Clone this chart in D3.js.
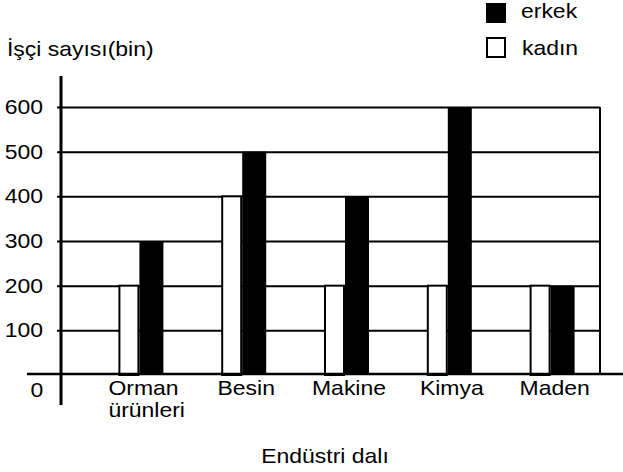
<!DOCTYPE html>
<html>
<head>
<meta charset="utf-8">
<script src="https://cdn.jsdelivr.net/npm/d3@7"></script>
<style>
  body { margin: 0; background: #fff; }
  svg text { font-family: "Liberation Sans", Arial, sans-serif; font-size: 20.5px; fill: #000; }
</style>
</head>
<body>
<svg id="chart" width="623" height="472"></svg>
<script>
// chart data
var categories = ["Orman\nürünleri", "Besin", "Makine", "Kimya", "Maden"];
var series = ["kadın", "erkek"];
var kadin = [200, 400, 200, 200, 200];
var erkek = [300, 500, 400, 600, 200];
var yTicks = [100, 200, 300, 400, 500, 600];

var svg = d3.select("#chart");
var stretch = 1.12;  // text in the picture is a bit wider than Arial

// put a text at (x,y) and widen it around its anchor
function addText(x, y, str, anchor) {
    return svg.append("text")
        .attr("transform", "translate(" + x + "," + y + ") scale(" + stretch + ",1)")
        .attr("text-anchor", anchor || "start")
        .text(str);
}

var axisX = 61, rightX = 600;

var x0 = d3.scaleBand().domain(categories).range([89, 603]).paddingInner(0.572).paddingOuter(0.286);
var x1 = d3.scaleBand().domain(series).range([0, x0.bandwidth()]);
var y = d3.scaleLinear().domain([0, 600]).range([375, 107]);

// gridlines + tick labels
var yAxis = svg.append("g")
    .attr("transform", "translate(" + axisX + ",0)")
    .call(d3.axisLeft(y).tickValues(yTicks).tickSize(4).tickPadding(14));
yAxis.select(".domain").remove();
yAxis.selectAll("line")
    .attr("x1", rightX - axisX)
    .attr("x2", -4)
    .attr("stroke", "#000")
    .attr("stroke-width", 2);
yAxis.selectAll("text")
    .attr("transform", function() {
        return "translate(" + this.getAttribute("x") + ",0) scale(" + stretch + ",1)";
    })
    .attr("x", 0)
    .style("font-size", "20.5px")
    .style("font-family", "Liberation Sans, Arial, sans-serif");

// right border
svg.append("line")
    .attr("x1", rightX).attr("x2", rightX)
    .attr("y1", y(600)).attr("y2", y(0))
    .attr("stroke", "#000").attr("stroke-width", 2);

// bars
var groups = svg.selectAll(".grp")
    .data(categories)
    .enter().append("g")
    .attr("class", "grp")
    .attr("transform", d => "translate(" + x0(d) + ",0)");

groups.append("rect")
    .attr("x", x1("kadın") + 1)
    .attr("width", x1.bandwidth() - 3)
    .attr("y", (d, i) => y(kadin[i]))
    .attr("height", (d, i) => y(0) - y(kadin[i]))
    .attr("fill", "#fff")
    .attr("stroke", "#000")
    .attr("stroke-width", 2);

groups.append("rect")
    .attr("x", x1("erkek") - 1)
    .attr("width", x1.bandwidth() + 2)
    .attr("y", (d, i) => y(erkek[i]))
    .attr("height", (d, i) => y(0) - y(erkek[i]))
    .attr("fill", "#000");

// axes lines
svg.append("line")
    .attr("x1", 27).attr("x2", 623)
    .attr("y1", y(0) - 1).attr("y2", y(0) - 1)
    .attr("stroke", "#000").attr("stroke-width", 2.5);
svg.append("line")
    .attr("x1", axisX).attr("x2", axisX)
    .attr("y1", 76).attr("y2", 405)
    .attr("stroke", "#000").attr("stroke-width", 3);

// zero label sits under the x axis
addText(37, 397, "0", "middle");

// category labels
categories.forEach(function(c) {
    var lines = c.split("\n");
    var cx = x0(c) + x0.bandwidth() / 2 + 3;
    lines.forEach(function(l, j) {
        if (lines.length > 1) {
            addText(cx - 35, 395 + j * 22, l, "start");
        } else {
            addText(cx, 395, l, "middle");
        }
    });
});

// titles
addText(7, 56, "İşçi sayısı(bin)");
addText(325, 463, "Endüstri dalı", "middle");

// legend
svg.append("rect").attr("x", 486).attr("y", 3).attr("width", 20).attr("height", 20).attr("fill", "#000");
svg.append("rect").attr("x", 487).attr("y", 38).attr("width", 18).attr("height", 19)
    .attr("fill", "#fff").attr("stroke", "#000").attr("stroke-width", 2);
addText(521, 18, "erkek");
addText(522, 55, "kadın");
</script>
</body>
</html>
